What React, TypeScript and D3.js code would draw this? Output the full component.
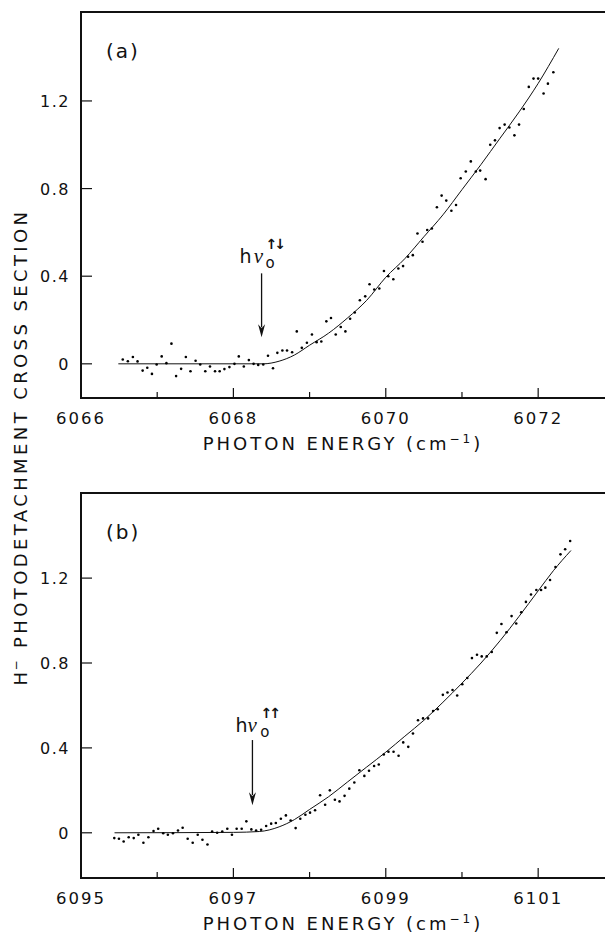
import React from 'react'
import * as d3 from 'd3'

// panel (a): photon energy (cm-1) and measured cross section
const topEnergy = [6066.548, 6066.615, 6066.681, 6066.742, 6066.809, 6066.870, 6066.931, 6066.993, 6067.059, 6067.121,
  6067.187, 6067.248, 6067.314, 6067.376, 6067.437, 6067.504, 6067.565, 6067.631, 6067.693, 6067.759,
  6067.820, 6067.882, 6067.948, 6068.014, 6068.071, 6068.137, 6068.203, 6068.265, 6068.326, 6068.392,
  6068.454, 6068.520, 6068.577, 6068.643, 6068.704, 6068.771, 6068.832, 6068.898, 6068.965, 6069.031,
  6069.092, 6069.154, 6069.220, 6069.281, 6069.343, 6069.409, 6069.470, 6069.532, 6069.593, 6069.660,
  6069.730, 6069.787, 6069.849, 6069.915, 6069.976, 6070.033, 6070.099, 6070.165, 6070.227, 6070.293,
  6070.355, 6070.416, 6070.482, 6070.544, 6070.605, 6070.671, 6070.733, 6070.794, 6070.861, 6070.922,
  6070.983, 6071.050, 6071.116, 6071.182, 6071.239, 6071.310, 6071.371, 6071.433, 6071.494, 6071.560,
  6071.622, 6071.688, 6071.749, 6071.811, 6071.877, 6071.939, 6072.000, 6072.071, 6072.128, 6072.199]
const topSignal = [0.020, 0.012, 0.031, 0.011, -0.031, -0.018, -0.046, -0.003, 0.034, 0.003,
  0.092, -0.056, -0.023, 0.031, -0.034, 0.014, -0.003, -0.034, -0.012, -0.034,
  -0.034, -0.024, -0.015, 0.000, 0.034, -0.012, 0.017, 0.000, -0.005, -0.003,
  0.037, -0.020, 0.050, 0.061, 0.061, 0.053, 0.148, 0.073, 0.096, 0.134,
  0.099, 0.102, 0.194, 0.209, 0.134, 0.168, 0.148, 0.206, 0.234, 0.290,
  0.308, 0.363, 0.339, 0.344, 0.424, 0.400, 0.386, 0.435, 0.446, 0.489,
  0.496, 0.595, 0.557, 0.611, 0.618, 0.715, 0.768, 0.745, 0.699, 0.725,
  0.847, 0.878, 0.924, 0.878, 0.882, 0.843, 1.000, 1.020, 1.076, 1.092,
  1.079, 1.043, 1.092, 1.163, 1.264, 1.302, 1.302, 1.234, 1.279, 1.331]
const topFitEnergy = [6066.49, 6068.39, 6068.6, 6068.8, 6069.0, 6069.25, 6069.5, 6069.75, 6070.0,
  6070.25, 6070.5, 6070.75, 6071.0, 6071.25, 6071.5, 6071.75, 6072.0, 6072.27]
const topFitSignal = [0, 0, 0.012, 0.04, 0.085, 0.14, 0.21, 0.29, 0.395,
  0.48, 0.58, 0.68, 0.795, 0.91, 1.03, 1.15, 1.28, 1.44]

// panel (b)
const bottomEnergy = [6095.437, 6095.498, 6095.560, 6095.626, 6095.692, 6095.753, 6095.819, 6095.885, 6095.952, 6096.013,
  6096.079, 6096.140, 6096.207, 6096.273, 6096.334, 6096.400, 6096.466, 6096.532, 6096.594, 6096.660,
  6096.721, 6096.787, 6096.854, 6096.920, 6096.981, 6097.043, 6097.109, 6097.170, 6097.236, 6097.298,
  6097.364, 6097.430, 6097.496, 6097.557, 6097.623, 6097.689, 6097.751, 6097.817, 6097.878, 6097.945,
  6098.006, 6098.072, 6098.138, 6098.204, 6098.266, 6098.332, 6098.393, 6098.459, 6098.521, 6098.587,
  6098.653, 6098.719, 6098.780, 6098.847, 6098.908, 6098.974, 6099.035, 6099.102, 6099.168, 6099.229,
  6099.295, 6099.357, 6099.423, 6099.489, 6099.555, 6099.621, 6099.682, 6099.749, 6099.810, 6099.876,
  6099.937, 6100.004, 6100.070, 6100.131, 6100.197, 6100.259, 6100.325, 6100.391, 6100.457, 6100.518,
  6100.584, 6100.651, 6100.712, 6100.778, 6100.839, 6100.906, 6100.976, 6101.038, 6101.094, 6101.156,
  6101.227, 6101.293, 6101.354, 6101.420]
const bottomSignal = [-0.025, -0.028, -0.041, -0.021, -0.025, -0.009, -0.047, -0.021, 0.008, 0.019,
  -0.002, -0.009, -0.002, 0.011, 0.024, -0.028, -0.047, -0.009, -0.033, -0.055,
  0.006, 0.000, 0.006, 0.019, -0.009, 0.019, 0.019, 0.054, 0.016, 0.011,
  0.014, 0.032, 0.043, 0.046, 0.066, 0.082, 0.058, 0.022, 0.066, 0.085,
  0.095, 0.106, 0.177, 0.132, 0.200, 0.156, 0.148, 0.174, 0.208, 0.237,
  0.295, 0.268, 0.292, 0.315, 0.322, 0.369, 0.382, 0.382, 0.363, 0.426,
  0.405, 0.468, 0.530, 0.539, 0.539, 0.574, 0.582, 0.650, 0.661, 0.673,
  0.647, 0.700, 0.729, 0.823, 0.839, 0.831, 0.831, 0.852, 0.942, 0.984,
  0.945, 1.021, 0.986, 1.039, 1.088, 1.123, 1.144, 1.144, 1.155, 1.191,
  1.252, 1.312, 1.336, 1.375]
const bottomFitEnergy = [6095.44, 6097.0, 6097.34, 6097.6, 6097.8, 6098.0, 6098.25, 6098.5, 6098.75, 6099.0,
  6099.25, 6099.5, 6099.75, 6100.0, 6100.25, 6100.5, 6100.75, 6101.0, 6101.2, 6101.43]
const bottomFitSignal = [0, 0.002, 0.006, 0.028, 0.062, 0.11, 0.17, 0.24, 0.31, 0.38,
  0.455, 0.53, 0.615, 0.705, 0.80, 0.905, 1.02, 1.14, 1.235, 1.33]

const topMajor = [6066, 6068, 6070, 6072]
const topMinor = [6067, 6069, 6071]
const bottomMajor = [6095, 6097, 6099, 6101]
const bottomMinor = [6096, 6098, 6100]
const yTicks = [0, 0.4, 0.8, 1.2]
const yTickLabels = ['0', '0.4', '0.8', '1.2']

// threshold arrows: energy, tail and tip of arrow (cross-section units)
const topArrow = [6068.37, 0.413, 0.121]
const bottomArrow = [6097.25, 0.437, 0.130]

const FONT = '"DejaVu Sans", sans-serif'

function Panel(props) {
  const { energy, signal, fitE, fitS, xDomain, yDomain, top, bottom, major, minor, label, arrow, spins, lab } = props
  const x = d3.scaleLinear().domain(xDomain).range([81, 629.6])
  const y = d3.scaleLinear().domain(yDomain).range([bottom, top])
  const line = d3.line<number>()
    .x((d, i) => x(fitE[i]))
    .y((d, i) => y(fitS[i]))
    .curve(d3.curveMonotoneX)
  const x0 = x.range()[0]
  const ax = x(arrow[0]), tail = y(arrow[1]), tip = y(arrow[2])

  return (
    <g>
      <path d={`M650,${top}H${x0}V${bottom}H650`} fill='none' stroke='#111' strokeWidth={2} />
      {major.map(t => (
        <g key={'M' + t}>
          <line x1={x(t)} x2={x(t)} y1={bottom} y2={bottom - 10} stroke='#111' strokeWidth={1.2} />
          <text x={x(t)} y={bottom + 26} textAnchor='middle' fontSize={16.5} letterSpacing={2}
            fontFamily={FONT} fill='#111'>{t}</text>
        </g>
      ))}
      {minor.map(t => (
        <line key={'m' + t} x1={x(t)} x2={x(t)} y1={bottom} y2={bottom - 6} stroke='#111' strokeWidth={1.2} />
      ))}
      {yTicks.map((t, i) => (
        <g key={'y' + t}>
          <line x1={x0} x2={x0 + 11} y1={y(t)} y2={y(t)} stroke='#111' strokeWidth={1.2} />
          <text x={70} y={y(t) + 6} textAnchor='end' fontSize={16} letterSpacing={1.5}
            fontFamily={FONT} fill='#111'>{yTickLabels[i]}</text>
        </g>
      ))}
      <path d={line(fitS) || ''} fill='none' stroke='#111' strokeWidth={1} />
      {energy.map((e, i) => (
        <circle key={i} cx={x(e)} cy={y(signal[i])} r={1.3} fill='#000' />
      ))}
      <line x1={ax} x2={ax} y1={tail} y2={tip - 10} stroke='#111' strokeWidth={1.3} />
      <path d={`M${ax - 3.5},${tip - 13}L${ax},${tip}L${ax + 3.5},${tip - 13}L${ax},${tip - 9}Z`} fill='#111' />
      {/* h nu_0 with spin arrows stacked over the subscript */}
      <text x={ax + lab[0]} y={tail + lab[1]} fontSize={19} fill='#111' fontFamily={FONT}>
        h<tspan dx={lab[2]} fontFamily='"Liberation Serif", serif' fontStyle='italic' fontSize={21}>ν</tspan>
        <tspan dx={lab[3]} dy={5} fontSize={15}>o</tspan>
      </text>
      <text x={ax + lab[4]} y={tail + lab[1] - 14} fontSize={14} letterSpacing={-3} fontWeight='bold'
        fill='#111' fontFamily={FONT}>{spins}</text>
      <text x={x0 + 25} y={top + 46} fontSize={20} letterSpacing={2} fill='#111' fontFamily={FONT}>{label}</text>
      <text x={343} y={bottom + 52} textAnchor='middle' fontSize={18} letterSpacing={3} fill='#111'
        fontFamily={FONT}>PHOTON ENERGY (cm<tspan dy={-7} fontSize={12}>−1</tspan><tspan dy={7}>)</tspan></text>
    </g>
  )
}

export default function App() {
  return (
    <svg width={605} height={936} style={{ position: 'absolute', left: 0, top: 0, background: '#fff' }}>
      <Panel energy={topEnergy} signal={topSignal} fitE={topFitEnergy} fitS={topFitSignal}
        xDomain={[6066, 6073.2]} yDomain={[-0.156, 1.606]} top={12} bottom={398}
        major={topMajor} minor={topMinor} label='(a)' arrow={topArrow} spins='↑↓'
        lab={[-22, -10, 2, 2.5, 4]} />
      <Panel energy={bottomEnergy} signal={bottomSignal} fitE={bottomFitEnergy} fitS={bottomFitSignal}
        xDomain={[6095, 6102.2]} yDomain={[-0.213, 1.601]} top={493} bottom={878}
        major={bottomMajor} minor={bottomMinor} label='(b)' arrow={bottomArrow} spins='↑↑'
        lab={[-17, -8, 0, 3.5, 8]} />
      <text transform='translate(27,447) rotate(-90)' textAnchor='middle' fontSize={18} letterSpacing={3.4}
        fill='#111' fontFamily={FONT}>H<tspan dx={-2} dy={-7} fontSize={12}>−</tspan><tspan dy={7}> PHOTODETACHMENT CROSS SECTION</tspan></text>
    </svg>
  )
}
